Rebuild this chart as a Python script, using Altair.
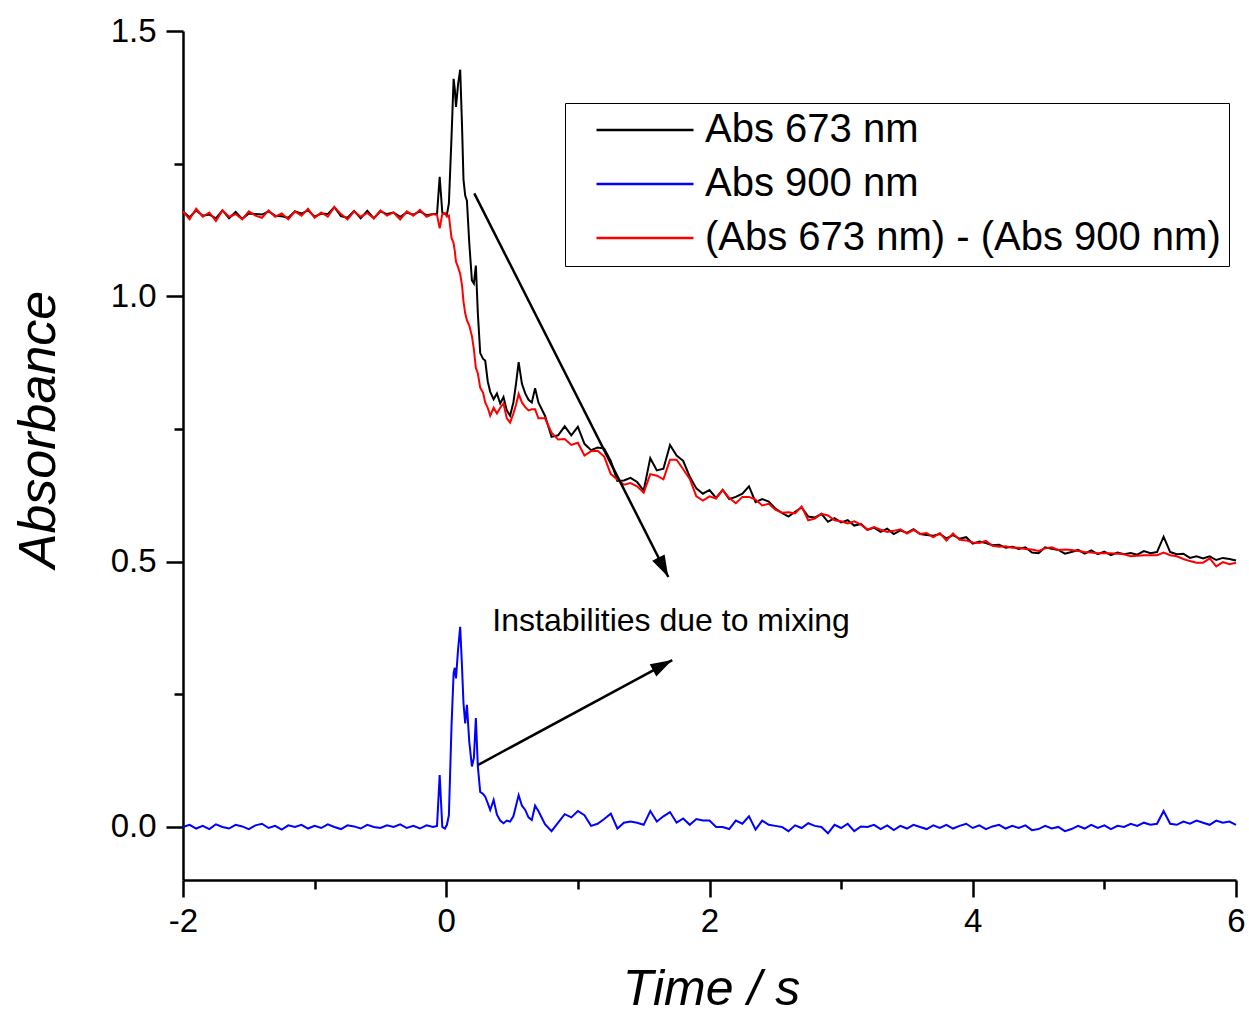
import altair as alt
import pandas as pd

# ---------------- data ----------------
t_pre = [-2.00, -1.95, -1.90, -1.85, -1.80, -1.75, -1.70, -1.65, -1.60, -1.55,
         -1.50, -1.45, -1.40, -1.35, -1.30, -1.25, -1.20, -1.15, -1.10, -1.05,
         -1.00, -0.95, -0.90, -0.85, -0.80, -0.75, -0.70, -0.65, -0.60, -0.55,
         -0.50, -0.45, -0.40, -0.35, -0.30, -0.25, -0.20, -0.15, -0.10]
t_fast = [-0.07, -0.05, -0.03, -0.01, 0.005, 0.02, 0.04, 0.056, 0.065, 0.074,
          0.09, 0.106, 0.12, 0.131, 0.144, 0.157, 0.175, 0.195, 0.21, 0.225,
          0.24, 0.258, 0.28, 0.296, 0.315, 0.334, 0.36, 0.385, 0.41, 0.435,
          0.46, 0.485, 0.51, 0.53, 0.55, 0.575, 0.60, 0.625, 0.65, 0.675,
          0.70]
t_post = [0.75, 0.80, 0.85, 0.90, 0.95, 1.00, 1.05, 1.10, 1.15, 1.20,
          1.25, 1.30, 1.35, 1.40, 1.45, 1.50, 1.55, 1.60, 1.65, 1.70,
          1.75, 1.80, 1.85, 1.90, 1.95, 2.00, 2.05, 2.10, 2.15, 2.20,
          2.25, 2.30, 2.35, 2.40, 2.45, 2.50, 2.55, 2.60, 2.65, 2.70,
          2.75, 2.80, 2.85, 2.90, 2.95, 3.00, 3.05, 3.10, 3.15, 3.20,
          3.25, 3.30, 3.35, 3.40, 3.45, 3.50, 3.55, 3.60, 3.65, 3.70,
          3.75, 3.80, 3.85, 3.90, 3.95, 4.00, 4.05, 4.10, 4.15, 4.20,
          4.25, 4.30, 4.35, 4.40, 4.45, 4.50, 4.55, 4.60, 4.65, 4.70,
          4.75, 4.80, 4.85, 4.90, 4.95, 5.00, 5.05, 5.10, 5.15, 5.20,
          5.25, 5.30, 5.35, 5.40, 5.45, 5.50, 5.55, 5.60, 5.65, 5.70,
          5.75, 5.80, 5.85, 5.90, 5.95, 6.00]

abs673_pre = [1.160, 1.149, 1.162, 1.152, 1.154, 1.147, 1.162, 1.147, 1.159, 1.146,
              1.156, 1.155, 1.154, 1.160, 1.152, 1.151, 1.148, 1.160, 1.156, 1.162,
              1.150, 1.156, 1.155, 1.168, 1.151, 1.148, 1.161, 1.147, 1.161, 1.147,
              1.160, 1.155, 1.158, 1.150, 1.158, 1.154, 1.160, 1.153, 1.155]
abs673_fast = [1.155, 1.225, 1.158, 1.155, 1.154, 1.175, 1.300, 1.410, 1.390, 1.357,
               1.400, 1.427, 1.320, 1.220, 1.190, 1.180, 1.100, 1.030, 1.024, 1.058,
               0.968, 0.893, 0.882, 0.879, 0.840, 0.820, 0.806, 0.817, 0.798, 0.810,
               0.785, 0.775, 0.800, 0.835, 0.876, 0.835, 0.817, 0.805, 0.800, 0.827,
               0.800]
abs673_post = [0.775, 0.735, 0.738, 0.755, 0.738, 0.754, 0.722, 0.710, 0.715, 0.713,
               0.690, 0.652, 0.653, 0.658, 0.650, 0.634, 0.695, 0.672, 0.675, 0.720,
               0.700, 0.690, 0.660, 0.638, 0.628, 0.635, 0.620, 0.635, 0.618, 0.622,
               0.628, 0.642, 0.612, 0.618, 0.613, 0.600, 0.592, 0.585, 0.594, 0.602,
               0.585, 0.583, 0.590, 0.575, 0.582, 0.574, 0.578, 0.568, 0.571, 0.560,
               0.564, 0.556, 0.562, 0.552, 0.559, 0.554, 0.561, 0.552, 0.550, 0.549,
               0.552, 0.544, 0.550, 0.543, 0.546, 0.534, 0.538, 0.535, 0.531, 0.532,
               0.526, 0.528, 0.524, 0.527, 0.517, 0.516, 0.527, 0.524, 0.522, 0.515,
               0.518, 0.522, 0.515, 0.521, 0.514, 0.519, 0.512, 0.517, 0.514, 0.516,
               0.513, 0.520, 0.516, 0.518, 0.547, 0.518, 0.514, 0.515, 0.507, 0.510,
               0.506, 0.510, 0.503, 0.507, 0.505, 0.502]

abs900_pre = [0.000, 0.004, -0.003, 0.002, -0.004, 0.005, 0.000, -0.003, 0.004, 0.001,
              -0.004, 0.003, 0.006, -0.002, 0.002, -0.005, 0.003, 0.000, 0.004, -0.003,
              0.002, -0.002, 0.005, 0.000, -0.004, 0.003, 0.001, -0.003, 0.004, 0.000,
              -0.002, 0.003, 0.000, 0.005, -0.002, 0.002, -0.003, 0.003, 0.000]
abs900_fast = [0.002, 0.098, 0.000, -0.003, 0.004, 0.022, 0.190, 0.290, 0.300, 0.280,
               0.335, 0.377, 0.300, 0.233, 0.195, 0.230, 0.160, 0.114, 0.130, 0.205,
               0.114, 0.066, 0.062, 0.057, 0.045, 0.032, 0.051, 0.023, 0.012, 0.007,
               0.012, 0.010, 0.020, 0.040, 0.060, 0.040, 0.032, 0.018, 0.013, 0.040,
               0.030]
abs900_post = [0.005, -0.008, 0.008, 0.024, 0.018, 0.030, 0.022, 0.002, 0.006, 0.015,
               0.025, -0.003, 0.008, 0.010, 0.008, 0.004, 0.030, 0.010, 0.020, 0.028,
               0.008, 0.016, 0.004, 0.015, 0.012, 0.012, 0.000, 0.000, -0.004, 0.012,
               0.006, 0.020, -0.005, 0.012, 0.004, 0.002, 0.000, -0.008, 0.003, -0.002,
               0.007, 0.002, 0.000, -0.012, 0.004, -0.002, 0.006, -0.008, 0.001, 0.000,
               0.004, -0.004, 0.003, -0.006, 0.002, -0.003, 0.004, 0.000, -0.004, 0.003,
               -0.002, 0.004, -0.003, 0.002, 0.006, -0.002, 0.003, -0.004, 0.001, 0.004,
               -0.003, 0.002, -0.002, 0.003, -0.006, -0.004, 0.002, -0.003, 0.000, -0.008,
               -0.004, 0.002, -0.003, 0.004, -0.002, 0.003, -0.004, 0.002, 0.000, 0.006,
               0.002, 0.008, 0.004, 0.006, 0.030, 0.006, 0.004, 0.010, 0.006, 0.012,
               0.008, 0.004, 0.012, 0.008, 0.010, 0.004]

diff_pre = [1.160, 1.145, 1.165, 1.150, 1.158, 1.142, 1.162, 1.150, 1.155, 1.145,
            1.160, 1.152, 1.148, 1.162, 1.150, 1.156, 1.145, 1.160, 1.152, 1.165,
            1.148, 1.158, 1.150, 1.168, 1.155, 1.145, 1.160, 1.150, 1.157, 1.147,
            1.162, 1.152, 1.158, 1.145, 1.160, 1.152, 1.163, 1.150, 1.155]
diff_fast = [1.153, 1.128, 1.155, 1.157, 1.150, 1.152, 1.110, 1.100, 1.085, 1.065,
             1.055, 1.042, 1.020, 0.990, 0.968, 0.955, 0.945, 0.925, 0.900, 0.865,
             0.855, 0.828, 0.818, 0.800, 0.790, 0.775, 0.790, 0.779, 0.790, 0.798,
             0.770, 0.762, 0.779, 0.795, 0.816, 0.800, 0.791, 0.785, 0.787, 0.787,
             0.770]
diff_post = [0.770, 0.743, 0.730, 0.731, 0.720, 0.724, 0.700, 0.708, 0.709, 0.698,
             0.665, 0.655, 0.645, 0.648, 0.642, 0.630, 0.665, 0.662, 0.655, 0.692,
             0.692, 0.674, 0.656, 0.623, 0.615, 0.623, 0.619, 0.635, 0.620, 0.610,
             0.622, 0.622, 0.617, 0.606, 0.609, 0.598, 0.592, 0.593, 0.591, 0.604,
             0.578, 0.581, 0.590, 0.587, 0.578, 0.576, 0.572, 0.576, 0.570, 0.560,
             0.565, 0.560, 0.556, 0.558, 0.561, 0.553, 0.560, 0.552, 0.554, 0.546,
             0.554, 0.540, 0.553, 0.541, 0.540, 0.536, 0.535, 0.539, 0.530, 0.528,
             0.529, 0.526, 0.526, 0.524, 0.523, 0.520, 0.525, 0.527, 0.522, 0.523,
             0.522, 0.520, 0.518, 0.517, 0.516, 0.516, 0.516, 0.515, 0.514, 0.510,
             0.511, 0.512, 0.512, 0.512, 0.517, 0.512, 0.510, 0.505, 0.501, 0.498,
             0.498, 0.506, 0.491, 0.499, 0.495, 0.498]

series_names = ["Abs 673 nm", "Abs 900 nm", "(Abs 673 nm) - (Abs 900 nm)"]
series_colors = ["#000000", "#0000ff", "#ff0000"]

# annotation: arrows (start/end in data units) and label
arrow_t0 = [0.213, 0.243]
arrow_v0 = [1.194, 0.117]
arrow_t1 = [1.687, 1.717]
arrow_v1 = [0.471, 0.3145]
arrow_angle = [153, 62]
note_text = "Instabilities due to mixing"
note_t = 0.35
note_v = 0.388

# ---------------- build tables ----------------
time = t_pre + t_fast + t_post
values = [abs673_pre + abs673_fast + abs673_post,
          abs900_pre + abs900_fast + abs900_post,
          diff_pre + diff_fast + diff_post]
rows = []
for name, vals in zip(series_names, values):
    for t, v in zip(time, vals):
        rows.append({"time": t, "absorbance": v, "series": name})
df = pd.DataFrame(rows)

df_arrow = pd.DataFrame({"time": arrow_t0, "absorbance": arrow_v0, "t1": arrow_t1,
                         "v1": arrow_v1, "angle": arrow_angle})
df_head = pd.DataFrame({"time": arrow_t1, "absorbance": arrow_v1, "angle": arrow_angle})
df_note = pd.DataFrame({"time": [note_t], "absorbance": [note_v], "label": [note_text]})

FONT = "Liberation Sans"
x_scale = alt.Scale(domain=[-2, 6], nice=False, zero=False)
y_scale = alt.Scale(domain=[-0.1, 1.5], nice=False, zero=False)

x_axis = alt.Axis(
    values=[-2, -1, 0, 1, 2, 3, 4, 5, 6],
    labelExpr="datum.value % 2 === 0 ? '' + datum.value : ''",
    tickSize={"condition": {"test": "datum.value % 2 === 0", "value": 17}, "value": 9},
    grid=False, domainColor="black", domainWidth=2.5, tickColor="black", tickWidth=2.5,
    labelFont=FONT, labelFontSize=33, labelColor="black", labelPadding=8,
    labelFlush=False, labelOverlap=False,
    title="Time / s", titleFont=FONT, titleFontSize=50, titleFontStyle="italic",
    titleFontWeight="normal", titleColor="black", titleX=528, titleY=124,
    titleAlign="center", titleBaseline="alphabetic",
)
y_axis = alt.Axis(
    values=[0, 0.25, 0.5, 0.75, 1.0, 1.25, 1.5],
    labelExpr="datum.value % 0.5 === 0 ? format(datum.value, '.1f') : ''",
    tickSize={"condition": {"test": "datum.value % 0.5 === 0", "value": 17}, "value": 9},
    grid=False, domainColor="black", domainWidth=2.5, tickColor="black", tickWidth=2.5,
    labelFont=FONT, labelFontSize=33, labelColor="black", labelPadding=10,
    labelFlush=False, labelOverlap=False,
    title="Absorbance", titleFont=FONT, titleFontSize=52, titleFontStyle="italic",
    titleFontWeight="normal", titleColor="black", titleX=-145, titleY=398,
    titleAngle=-90, titleAlign="center", titleBaseline="middle",
)

legend = alt.Legend(
    orient="none", legendX=382, legendY=72, direction="vertical", title=None,
    symbolType="stroke", symbolSize=9409, symbolStrokeWidth=2.5,
    symbolOffset=22, labelOffset=10, clipHeight=38, rowPadding=14,
    labelFont=FONT, labelFontSize=40, labelColor="black", labelLimit=1000,
    strokeColor="black", fillColor="white", padding=8,
)

X = alt.X("time:Q", scale=x_scale, axis=x_axis)
Y = alt.Y("absorbance:Q", scale=y_scale, axis=y_axis)

lines = alt.Chart(df).mark_line(strokeWidth=2).encode(
    x=X, y=Y,
    color=alt.Color("series:N", scale=alt.Scale(domain=series_names, range=series_colors),
                    legend=legend, sort=series_names),
)

arrows = alt.Chart(df_arrow).mark_rule(strokeWidth=2.5, color="black").encode(
    x=X, y=Y, x2="t1:Q", y2="v1:Q",
)
heads = alt.Chart(df_head).mark_point(
    shape="M0,0L-0.32,1L0.32,1Z", filled=True, size=1900, color="black",
    opacity=1, strokeWidth=0,
).encode(
    x=X, y=Y,
    angle=alt.Angle("angle:Q", scale=None),
)
note = alt.Chart(df_note).mark_text(
    align="left", baseline="middle", font=FONT, fontSize=32, color="black",
).encode(
    x=X, y=Y,
    text="label:N",
)

chart = alt.layer(lines, arrows, heads, note).properties(
    width=1053, height=849,
    autosize=alt.AutoSizeParams(type="none"),
    padding={"left": 183, "top": 31, "right": 13, "bottom": 136},
    background="white",
).configure_view(stroke=None)

chart.save("out.html", embed_options={"renderer": "svg", "actions": False})
